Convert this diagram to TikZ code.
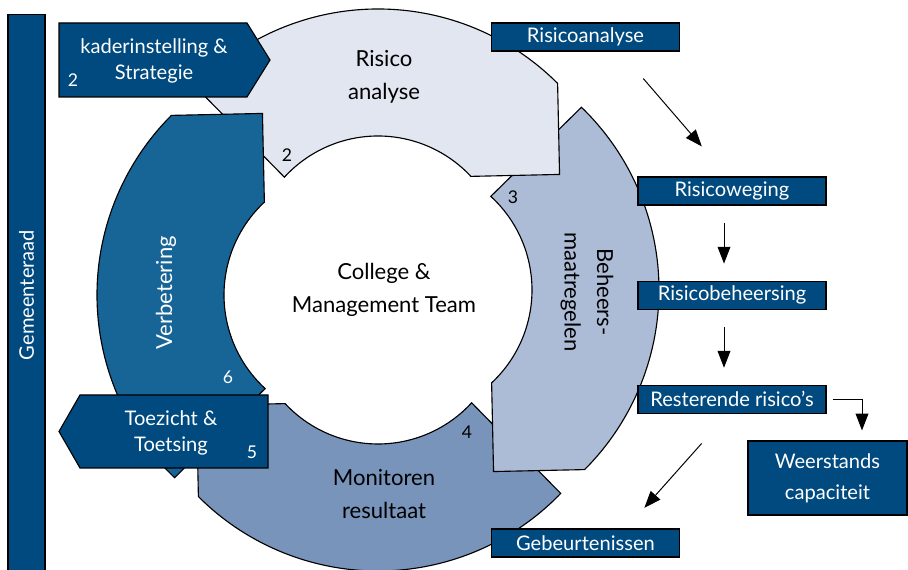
\documentclass[tikz,border=0pt]{standalone}
\usepackage{fontspec}
\setmainfont{Lato}
\usetikzlibrary{positioning,calc,arrows.meta}
\definecolor{boxblue}{HTML}{004A7F}
\definecolor{partA}{HTML}{E1E6F0}
\definecolor{partB}{HTML}{ACBBD6}
\definecolor{partC}{HTML}{7894BA}
\definecolor{partD}{HTML}{176496}
\tikzset{block/.style={draw,thick,fill=boxblue,text=white,minimum width=4.7cm,minimum height=0.7cm,inner sep=0pt},
         part/.style={draw,thick},
         ringtext/.style={font=\fontsize{15.7}{23}\selectfont},
         num/.style={font=\fontsize{12.5}{14}\selectfont},
         line/.style={line width=0.7pt,-{Triangle[length=0.42cm,width=0.32cm]}}
}

\begin{document}
\begin{tikzpicture}[x=0.025cm,y=0.025cm,align=center,font=\fontsize{14.3}{22}\selectfont]
  \useasboundingbox (0,0) rectangle (908,570);
  \coordinate (cA) at (378,307);
  \coordinate (cB) at (405,280);
  \coordinate (cC) at (378,253);
  \coordinate (cD) at (351,275);

  % ring, the head of each part lies over the tail of the next one
  \filldraw[part,fill=partC] ($(cC)+(316:254)$) arc[start angle=316,end angle=225,radius=254] -- ($(cC)+(206:202)$) -- ($(cC)+(223:127)$) arc[start angle=223,end angle=317.5,radius=127] -- cycle;
  \filldraw[part,fill=partB] ($(cB)+(46:254)$) arc[start angle=46,end angle=-45,radius=254] -- ($(cB)+(-64:202)$) -- ($(cB)+(-47:127)$) arc[start angle=-47,end angle=47.5,radius=127] -- cycle;
  \filldraw[part,fill=partA] ($(cA)+(136:254)$) arc[start angle=136,end angle=45,radius=254] -- ($(cA)+(26:202)$) -- ($(cA)+(43:127)$) arc[start angle=43,end angle=137.5,radius=127] -- cycle;
  \filldraw[part,fill=partD] ($(cD)+(226:254)$) arc[start angle=226,end angle=135,radius=254] -- ($(cD)+(116:202)$) -- ($(cD)+(133:127)$) arc[start angle=133,end angle=227.5,radius=127] -- cycle;

  \node[ringtext] (risico) at (384,493) {Risico\\analyse};
  \node[ringtext,rotate=-90] (beheer) at (587,278) {Beheers-\\maatregelen};
  \node[ringtext] (monitor) at (384,76) {Monitoren\\resultaat};
  \node[ringtext,rotate=90,text=white] (verbeter) at (166,277) {Verbetering};
  \node[ringtext] (college) at (384,280) {College \&\\Management Team};
  \node[num] (n2) at (287,415) {2};
  \node[num] (n3) at (513,373) {3};
  \node[num] (n4) at (467,138) {4};
  \node[num,text=white] (n6) at (228,193) {6};

  % pointers left
  \filldraw[part,fill=boxblue] (59,547) -- (247,547) -- (270,510) -- (247,473) -- (59,473) -- cycle;
  \node[text=white,font=\fontsize{14.3}{19}\selectfont] (kader) at (154,509) {kaderinstelling \&\\Strategie};
  \node[num,text=white] (k2) at (73,490) {2};
  \filldraw[part,fill=boxblue] (268,175) -- (80,175) -- (59,138.5) -- (80,102) -- (268,102) -- cycle;
  \node[text=white,font=\fontsize{14.3}{19}\selectfont] (toezicht) at (171,137) {Toezicht \&\\Toetsing};
  \node[num,text=white] (t5) at (252,118) {5};

  \node[block,minimum width=14cm,minimum height=0.925cm,rotate=90] (raad) at (26.5,275) {Gemeenteraad};

  \node[block] (analyse) at (585.5,533) {Risicoanalyse};
  \node[block] (weging) at (732,379) {Risicoweging};
  \node[block,below=1.875cm of weging] (beheersing) {Risicobeheersing};
  \node[block,below=1.875cm of beheersing] (rest) {Resterende risico’s};
  \node[block,minimum width=3.975cm,minimum height=1.85cm] (weerstand) at (827.5,92) {Weerstands\\capaciteit};
  \node[block] (geb) at (585.5,27) {Gebeurtenissen};

  \draw[line,shorten <=0.89cm,shorten >=0.99cm] ($(analyse.south)+(34.5,0)$) -- ($(weging.north)+(-4.3,0)$);
  \draw[line,shorten <=0.425cm,shorten >=0.425cm] ($(weging.south)+(-8,0)$) -- ($(beheersing.north)+(-8,0)$);
  \draw[line,shorten <=0.425cm,shorten >=0.425cm] ($(beheersing.south)+(-8,0)$) -- ($(rest.north)+(-8,0)$);
  \draw[line,shorten <=0.15cm,shorten >=0.25cm] (rest.east) -| ($(weerstand.north)+(34.5,0)$);
  \draw[line,shorten <=0.99cm,shorten >=0.69cm] ($(rest.south)+(-4,0)$) -- ($(geb.north)+(40.5,0)$);
\end{tikzpicture}
\end{document}
